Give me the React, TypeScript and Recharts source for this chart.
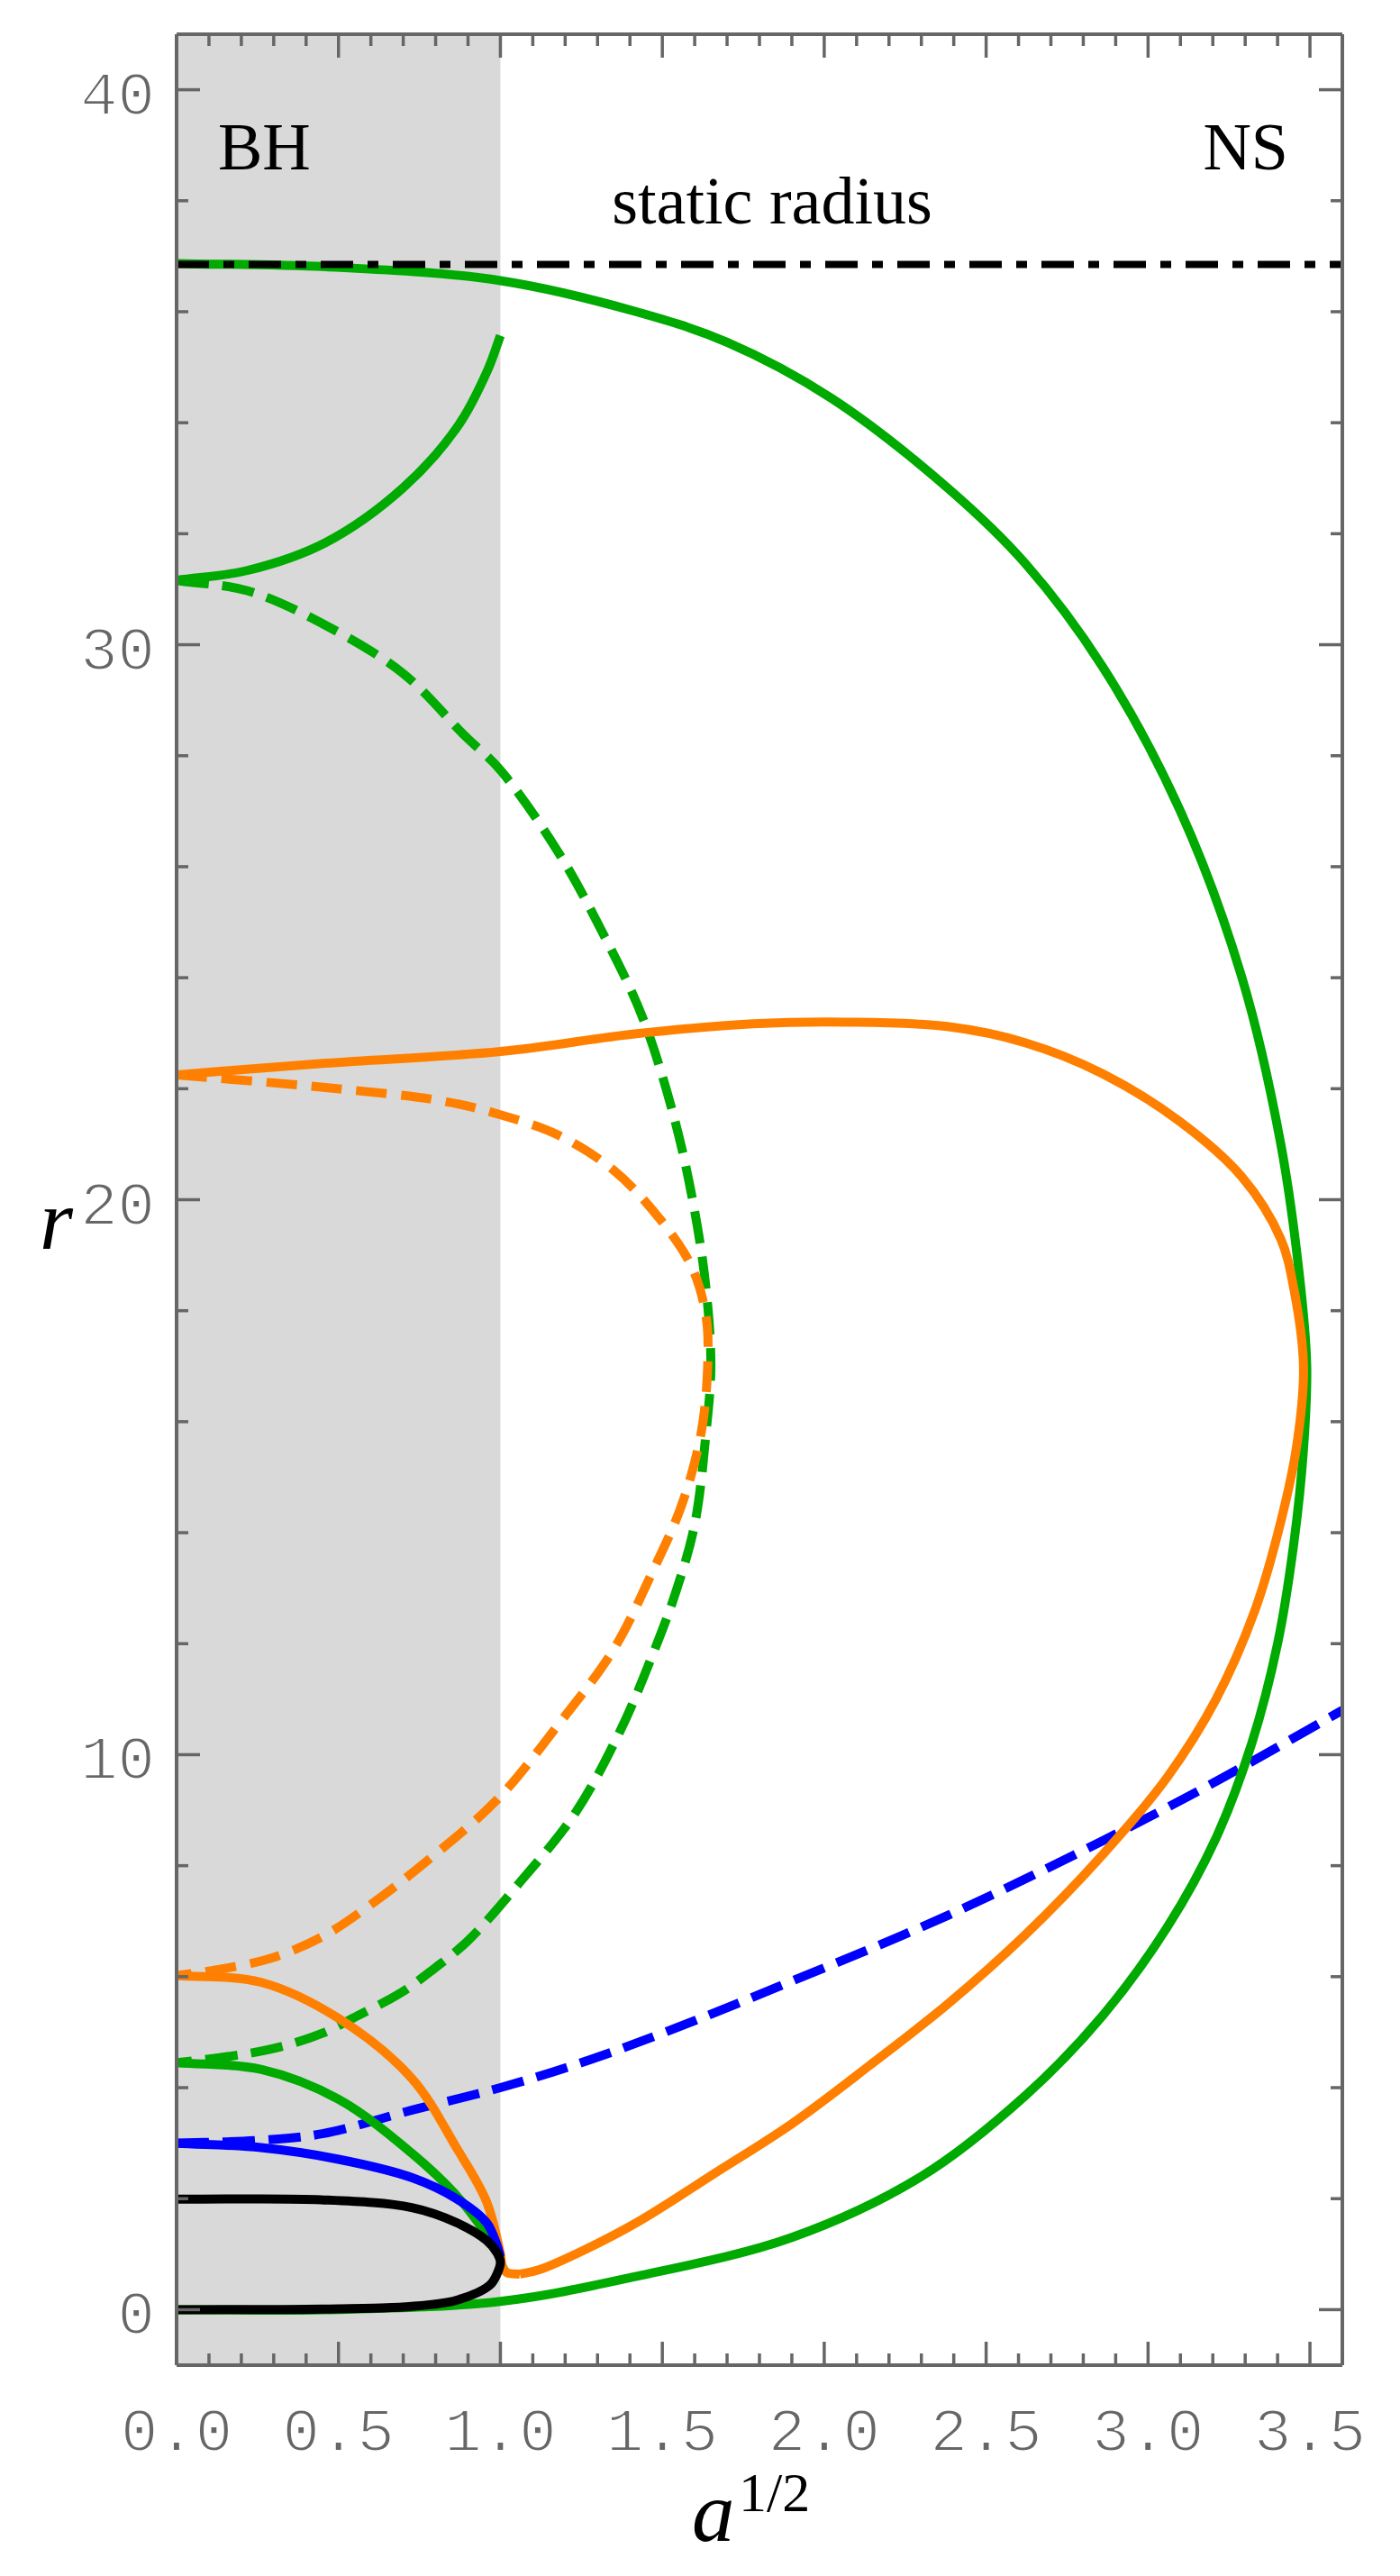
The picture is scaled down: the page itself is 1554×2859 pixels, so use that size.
import React from "react";
import { LineChart, Line, XAxis, YAxis, ReferenceArea } from "recharts";

const FRAME = "#666666";
const GREEN = "#00aa00";
const ORANGE = "#ff8000";
const BLUE = "#0000ff";
const BLACK = "#000000";
const SHADE = "#d9d9d9";

const W = 1554;
const H = 2859;

// ticks: minor every 0.1 / 2, labels every 0.5 / 10
const X_TICKS = [
  0, 0.1, 0.2, 0.3, 0.4, 0.5, 0.6, 0.7, 0.8, 0.9, 1, 1.1, 1.2, 1.3, 1.4, 1.5, 1.6, 1.7, 1.8,
  1.9, 2, 2.1, 2.2, 2.3, 2.4, 2.5, 2.6, 2.7, 2.8, 2.9, 3, 3.1, 3.2, 3.3, 3.4, 3.5, 3.6,
];
const X_LABELS = [0, 0.5, 1, 1.5, 2, 2.5, 3, 3.5];
const Y_TICKS = [0, 2, 4, 6, 8, 10, 12, 14, 16, 18, 20, 22, 24, 26, 28, 30, 32, 34, 36, 38, 40];
const Y_LABELS = [0, 10, 20, 30, 40];

const BH_EDGE = 1.0; // a^{1/2} where the shaded BH region ends
const STATIC_RADIUS = 36.85;

// curves as [a^{1/2}, r], in order along each branch
const GREEN_OUTER: [number, number][] = [
  [0, 36.87], [0.46, 36.81], [1.0, 36.56], [1.42, 36.0], [1.7, 35.45], [2.02, 34.45],
  [2.38, 32.83], [2.62, 31.47], [2.86, 29.6], [3.1, 27.0], [3.29, 24.0], [3.41, 21.0],
  [3.47, 18.5], [3.49, 17.0], [3.48, 15.5], [3.45, 13.8], [3.4, 12.0], [3.32, 10.2],
  [3.21, 8.5], [3.06, 6.9], [2.86, 5.3], [2.62, 3.85], [2.3, 2.4], [1.9, 1.3],
  [1.42, 0.6], [1.0, 0.15], [0.46, 0.0], [0, 0],
];
const GREEN_UPPER: [number, number][] = [
  [0, 31.16], [0.22, 31.34], [0.46, 31.84], [0.7, 32.83], [0.87, 33.95], [0.96, 34.94], [1.0, 35.57],
];
const GREEN_DASHED: [number, number][] = [
  [0, 31.16], [0.22, 30.97], [0.46, 30.35], [0.7, 29.48], [0.89, 28.36], [1.0, 27.74],
  [1.18, 26.25], [1.32, 24.76], [1.44, 23.27], [1.54, 21.4], [1.6, 19.79], [1.635, 18.4],
  [1.65, 17.0], [1.635, 15.8], [1.6, 14.15], [1.54, 12.9], [1.47, 11.8], [1.37, 10.43],
  [1.23, 8.94], [1.06, 7.7], [0.9, 6.65], [0.79, 6.12], [0.69, 5.7], [0.56, 5.3],
  [0.45, 4.98], [0.31, 4.72], [0.17, 4.57], [0, 4.45],
];
const GREEN_LOW: [number, number][] = [
  [0, 4.45], [0.26, 4.33], [0.5, 3.79], [0.726, 2.82], [0.864, 2.06], [0.957, 1.36], [1.0, 0.98],
];
const ORANGE_OUTER: [number, number][] = [
  [0, 22.25], [0.46, 22.46], [1.0, 22.67], [1.42, 22.99], [1.78, 23.17], [2.07, 23.2],
  [2.38, 23.12], [2.62, 22.83], [2.86, 22.27], [3.1, 21.4], [3.29, 20.41], [3.41, 19.29],
  [3.45, 18.4], [3.48, 17.0], [3.46, 15.6], [3.41, 14.2], [3.33, 12.6], [3.21, 11.0],
  [3.06, 9.6], [2.86, 8.2], [2.62, 6.75], [2.38, 5.5], [2.14, 4.4], [1.9, 3.35],
  [1.66, 2.45], [1.43, 1.6], [1.25, 1.05], [1.12, 0.72], [1.06, 0.64],
];
const ORANGE_LOW: [number, number][] = [
  [1.06, 0.64], [1.02, 0.67], [1.005, 0.8], [1.0, 1.0], [0.957, 1.95], [0.864, 2.92],
  [0.726, 4.17], [0.5, 5.25], [0.26, 5.9], [0, 6.02],
];
const ORANGE_DASHED: [number, number][] = [
  [0, 22.25], [0.46, 22.02], [0.82, 21.78], [1.0, 21.53], [1.18, 21.16], [1.35, 20.53],
  [1.49, 19.67], [1.59, 18.8], [1.635, 17.9], [1.64, 17.0], [1.62, 15.8], [1.56, 14.5],
  [1.47, 13.3], [1.35, 11.9], [1.18, 10.55], [0.99, 9.19], [0.77, 8.07], [0.6, 7.3],
  [0.45, 6.72], [0.29, 6.33], [0.12, 6.12], [0, 6.02],
];
const BLUE_SOLID: [number, number][] = [
  [0, 3.0], [0.26, 2.92], [0.5, 2.71], [0.726, 2.38], [0.864, 2.0], [0.957, 1.57], [0.99, 1.15], [1.0, 0.95],
];
const BLUE_DASHED: [number, number][] = [
  [0, 3.0], [0.25, 3.05], [0.45, 3.17], [0.73, 3.6], [1.0, 4.0], [1.25, 4.45], [1.5, 4.98],
  [1.9, 5.92], [2.38, 7.1], [2.86, 8.45], [3.22, 9.55], [3.6, 10.8],
];
const BLACK_SOLID: [number, number][] = [
  [0, 1.99], [0.447, 1.98], [0.726, 1.84], [0.864, 1.57], [0.957, 1.25], [0.99, 1.02],
  [1.0, 0.85], [0.99, 0.65], [0.967, 0.44], [0.864, 0.17], [0.726, 0.06], [0.447, 0.01], [0, 0],
];
const STATIC_LINE: [number, number][] = [
  [0, STATIC_RADIUS], [3.6, STATIC_RADIUS],
];

const pts = (arr: [number, number][]) => arr.map(([x, y]) => ({ x, y }));

// centripetal catmull-rom: the branches fold back on themselves, so no monotone curves here
function catmullRom(context: any) {
  let p: [number, number][] = [];
  const d = (a: [number, number], b: [number, number]) => Math.sqrt(Math.hypot(b[0] - a[0], b[1] - a[1]));
  return {
    areaStart() {},
    areaEnd() {},
    lineStart() {
      p = [];
    },
    point(x: number, y: number) {
      p.push([+x, +y]);
    },
    lineEnd() {
      const n = p.length;
      if (!n) return;
      context.moveTo(p[0][0], p[0][1]);
      for (let i = 0; i < n - 1; i++) {
        const p0 = p[i - 1] ?? p[i];
        const p1 = p[i];
        const p2 = p[i + 1];
        const p3 = p[i + 2] ?? p2;
        const l01 = d(p0, p1);
        const l12 = d(p1, p2);
        const l23 = d(p2, p3);
        let c1x, c1y, c2x, c2y;
        if (l01 > 1e-9) {
          const a = 2 * l01 * l01 + 3 * l01 * l12 + l12 * l12;
          const m = 3 * l01 * (l01 + l12);
          c1x = (p1[0] * a - p0[0] * l12 * l12 + p2[0] * l01 * l01) / m;
          c1y = (p1[1] * a - p0[1] * l12 * l12 + p2[1] * l01 * l01) / m;
        } else {
          c1x = p1[0] + (p2[0] - p1[0]) / 3;
          c1y = p1[1] + (p2[1] - p1[1]) / 3;
        }
        if (l23 > 1e-9) {
          const b = 2 * l23 * l23 + 3 * l23 * l12 + l12 * l12;
          const m = 3 * l23 * (l23 + l12);
          c2x = (p2[0] * b + p1[0] * l23 * l23 - p3[0] * l12 * l12) / m;
          c2y = (p2[1] * b + p1[1] * l23 * l23 - p3[1] * l12 * l12) / m;
        } else {
          c2x = p2[0] - (p2[0] - p1[0]) / 3;
          c2y = p2[1] - (p2[1] - p1[1]) / 3;
        }
        context.bezierCurveTo(c1x, c1y, c2x, c2y, p2[0], p2[1]);
      }
    },
  };
}

const MONO = "'Liberation Mono', 'Courier New', monospace";
const SERIF = "'Liberation Serif', 'Times New Roman', serif";
const MAJOR = 26;
const MINOR = 13;
const TICK_W = 3.5;

const isXLabel = (v: number) => X_LABELS.some((l) => Math.abs(l - v) < 1e-6);
const isYLabel = (v: number) => Y_LABELS.includes(v);

// white outline eats into the glyphs so the mono digits read as thin as the original
const labelStyle = {
  fontFamily: MONO,
  fontSize: 69,
  fill: FRAME,
  stroke: "#ffffff",
  strokeWidth: 2,
  paintOrder: "normal",
} as const;

function BottomTick(props: any) {
  const { x, y, payload } = props;
  const v = payload.value as number;
  const major = isXLabel(v);
  return (
    <g>
      <line x1={x} x2={x} y1={y} y2={y - (major ? MAJOR : MINOR)} stroke={FRAME} strokeWidth={TICK_W} />
      {major ? (
        <text x={x} y={y + 95} textAnchor="middle" style={labelStyle}>
          {v.toFixed(1)}
        </text>
      ) : null}
    </g>
  );
}

function TopTick(props: any) {
  const { x, y, payload } = props;
  const major = isXLabel(payload.value);
  return <line x1={x} x2={x} y1={y} y2={y + (major ? MAJOR : MINOR)} stroke={FRAME} strokeWidth={TICK_W} />;
}

function LeftTick(props: any) {
  const { x, y, payload } = props;
  const v = payload.value as number;
  const major = isYLabel(v);
  return (
    <g>
      <line x1={x} x2={x + (major ? MAJOR : MINOR)} y1={y} y2={y} stroke={FRAME} strokeWidth={TICK_W} />
      {major ? (
        <text x={x - 24} y={y + 27} textAnchor="end" style={labelStyle}>
          {String(v)}
        </text>
      ) : null}
    </g>
  );
}

function RightTick(props: any) {
  const { x, y, payload } = props;
  const major = isYLabel(payload.value);
  return <line x1={x} x2={x - (major ? MAJOR : MINOR)} y1={y} y2={y} stroke={FRAME} strokeWidth={TICK_W} />;
}

function Curve({ data, color, dash, width = 10 }: { data: [number, number][]; color: string; dash?: string; width?: number }) {
  return (
    <Line
      data={pts(data)}
      dataKey="y"
      type={catmullRom as any}
      stroke={color}
      strokeWidth={width}
      strokeDasharray={dash}
      dot={false}
      activeDot={false}
      isAnimationActive={false}
      legendType="none"
    />
  );
}

export default function App() {
  // axes are 1px wide/high: a zero-size axis is not drawn at all
  return (
    <div style={{ position: "absolute", left: 0, top: 0, width: W, height: H, background: "#fff" }}>
      <LineChart width={W} height={H} margin={{ top: 37, right: 63, bottom: 233, left: 195 }}>
        <ReferenceArea x1={0} x2={BH_EDGE} y1={-1} y2={41} fill={SHADE} fillOpacity={1} stroke="none" />

        <Curve data={BLUE_DASHED} color={BLUE} dash="36 15" />
        <Curve data={GREEN_DASHED} color={GREEN} dash="36 15" />
        <Curve data={ORANGE_DASHED} color={ORANGE} dash="34 16" />
        <Curve data={GREEN_OUTER} color={GREEN} />
        <Curve data={GREEN_UPPER} color={GREEN} />
        <Curve data={GREEN_LOW} color={GREEN} />
        <Curve data={ORANGE_OUTER} color={ORANGE} />
        <Curve data={ORANGE_LOW} color={ORANGE} />
        <Curve data={BLUE_SOLID} color={BLUE} />
        <Curve data={BLACK_SOLID} color={BLACK} />
        <Curve data={STATIC_LINE} color={BLACK} dash="36 16 12 16" width={8} />

        <XAxis
          xAxisId={0}
          type="number"
          dataKey="x"
          domain={[0, 3.6]}
          allowDataOverflow
          ticks={X_TICKS}
          interval={0}
          height={1}
          tickSize={0}
          tickMargin={0}
          tickLine={false}
          tick={BottomTick}
          axisLine={{ stroke: FRAME, strokeWidth: 4 }}
        />
        <XAxis
          xAxisId="top"
          orientation="top"
          type="number"
          dataKey="x"
          domain={[0, 3.6]}
          allowDataOverflow
          ticks={X_TICKS}
          interval={0}
          height={1}
          tickSize={0}
          tickMargin={0}
          tickLine={false}
          tick={TopTick}
          axisLine={{ stroke: FRAME, strokeWidth: 4 }}
        />
        <YAxis
          yAxisId={0}
          type="number"
          domain={[-1, 41]}
          allowDataOverflow
          ticks={Y_TICKS}
          interval={0}
          width={1}
          tickSize={0}
          tickMargin={0}
          tickLine={false}
          tick={LeftTick}
          axisLine={{ stroke: FRAME, strokeWidth: 4 }}
        />
        <YAxis
          yAxisId="right"
          orientation="right"
          type="number"
          domain={[-1, 41]}
          allowDataOverflow
          ticks={Y_TICKS}
          interval={0}
          width={1}
          tickSize={0}
          tickMargin={0}
          tickLine={false}
          tick={RightTick}
          axisLine={{ stroke: FRAME, strokeWidth: 4 }}
        />
      </LineChart>

      <svg width={W} height={H} style={{ position: "absolute", left: 0, top: 0, pointerEvents: "none" }}>
        <text x={242} y={188} fontFamily={SERIF} fontSize={74} fill={BLACK}>BH</text>
        <text x={1430} y={188} textAnchor="end" fontFamily={SERIF} fontSize={74} fill={BLACK}>NS</text>
        <text x={857} y={248} textAnchor="middle" fontFamily={SERIF} fontSize={74} fill={BLACK}>static radius</text>
        <text x={768} y={2820} fontFamily={SERIF} fontStyle="italic" fontSize={95} fill={BLACK}>a</text>
        <text x={820} y={2787} fontFamily={SERIF} fontSize={62} fill={BLACK}>1/2</text>
        <text x={44} y={1386} fontFamily={SERIF} fontStyle="italic" fontSize={95} fill={BLACK}>r</text>
      </svg>
    </div>
  );
}
